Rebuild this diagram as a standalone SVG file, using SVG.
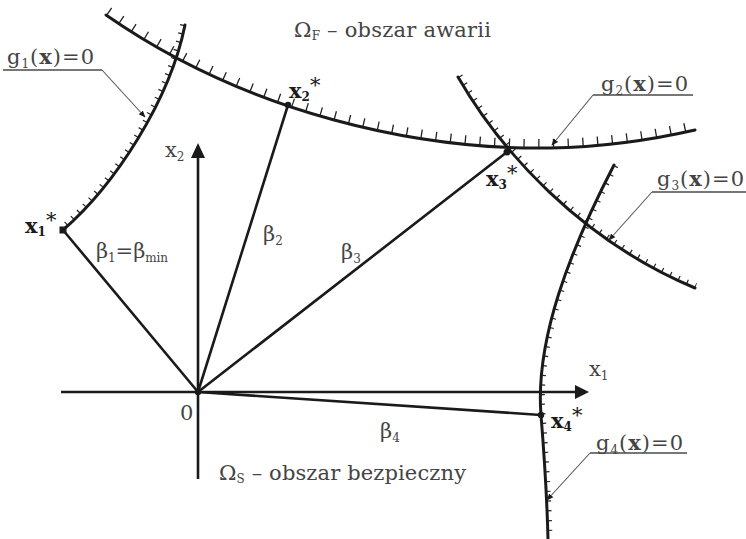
<svg xmlns="http://www.w3.org/2000/svg" width="746" height="539" viewBox="0 0 746 539">
<style>
.curve{fill:none;stroke:#1a1a1a;stroke-width:3;stroke-linecap:round}
.tick{fill:none;stroke:#222;stroke-width:10;stroke-dasharray:1.2 7.5}
.ray{fill:none;stroke:#1a1a1a;stroke-width:2.6;stroke-linecap:round}
.axis{fill:none;stroke:#1a1a1a;stroke-width:2.6}
.lead{fill:none;stroke:#555;stroke-width:1.1}
.ul{fill:none;stroke:#777;stroke-width:1.8}
.lbl{font-family:"DejaVu Serif","Liberation Serif",serif;font-size:21px;fill:#444}
.pt{font-family:"DejaVu Serif","Liberation Serif",serif;font-size:21px;fill:#1a1a1a}
.sub{font-size:12px}
.b{font-weight:bold}
</style>
<defs>
<marker id="la" viewBox="0 0 10 10" refX="9" refY="5" markerWidth="7" markerHeight="7" markerUnits="userSpaceOnUse" orient="auto">
<path d="M0,1 L10,5 L0,9 Z" fill="#1a1a1a"/>
</marker>
<clipPath id="c2"><path d="M34,-35 L106,15 C250,115 420,150 550,148 C610,147 660,138 695,130 L760,115 L760,-40 Z"/></clipPath>
<clipPath id="c1"><path d="M191,-5 L185,25 C170,100 115,185 63,230 L20,268 L-20,268 L-20,-5 Z"/></clipPath>
<clipPath id="c3"><path d="M440,46 L458,77 C500,150 580,240 695,288 L760,315 L760,46 Z"/></clipPath>
<clipPath id="c4"><path d="M630,134 L614,165 C570,250 535,340 541,415 C544,452 547,500 548,539 L549,560 L760,560 L760,134 Z"/></clipPath>
</defs>

<g id="axes">
<line class="axis" x1="61" y1="392" x2="576" y2="392"/>
<polygon points="575,385 589,392 575,399" fill="#1a1a1a"/>
<line class="axis" x1="198" y1="479" x2="198" y2="157"/>
<polygon points="191,158 198,143 205,158" fill="#1a1a1a"/>
<text class="lbl" x="589" y="376">x<tspan class="sub" dy="4">1</tspan></text>
<text class="lbl" x="165" y="157">x<tspan class="sub" dy="4">2</tspan></text>
<text class="lbl" x="180" y="420">0</text>
</g>

<g id="g1">
<path class="tick" clip-path="url(#c1)" d="M185,25 C170,100 115,185 63,230"/>
<path class="curve" d="M185,25 C170,100 115,185 63,230"/>
</g>
<g id="g2">
<path class="tick" clip-path="url(#c2)" style="stroke-width:18;stroke-dasharray:1.3 13.5" d="M106,15 C250,115 420,150 550,148 C610,147 660,138 695,130"/>
<path class="curve" d="M106,15 C250,115 420,150 550,148 C610,147 660,138 695,130"/>
</g>
<g id="g3">
<path class="tick" clip-path="url(#c3)" style="stroke-dasharray:1.2 8" d="M458,77 C500,150 580,240 695,288"/>
<path class="curve" d="M458,77 C500,150 580,240 695,288"/>
</g>
<g id="g4">
<path class="tick" clip-path="url(#c4)" style="stroke-width:9;stroke-dasharray:1.2 8.5" d="M614,165 C570,250 535,340 541,415 C544,452 547,500 548,539"/>
<path class="curve" d="M614,165 C570,250 535,340 541,415 C544,452 547,500 548,539"/>
</g>

<g id="connectors">
<line class="ray" x1="198" y1="392" x2="63" y2="230"/>
<line class="ray" x1="198" y1="392" x2="288" y2="105"/>
<line class="ray" x1="198" y1="392" x2="507" y2="152"/>
<line class="ray" x1="198" y1="392" x2="541" y2="415"/>
<polyline class="lead" points="102,70 145,117" marker-end="url(#la)"/>
<polyline class="lead" points="593,95 552,145" marker-end="url(#la)"/>
<polyline class="lead" points="652,192 609,240" marker-end="url(#la)"/>
<polyline class="lead" points="590,453 547,500" marker-end="url(#la)"/>
<line class="ul" x1="3" y1="70" x2="102" y2="70"/>
<line class="ul" x1="593" y1="95" x2="693" y2="95"/>
<line class="ul" x1="652" y1="192" x2="746" y2="192"/>
<line class="ul" x1="590" y1="453" x2="687" y2="453"/>
</g>

<g id="points">
<rect x="59.5" y="226.5" width="7" height="7" fill="#1a1a1a"/>
<circle cx="288" cy="105" r="3.2" fill="#1a1a1a"/>
<circle cx="507" cy="152" r="3.5" fill="#1a1a1a"/>
<circle cx="541" cy="415" r="3.2" fill="#1a1a1a"/>
<circle cx="198" cy="392" r="3.2" fill="#1a1a1a"/>
</g>

<g id="labels">
<text class="lbl" x="7" y="64" textLength="87">g<tspan class="sub" dy="4">1</tspan><tspan dy="-4">(</tspan><tspan class="b">x</tspan>)=0</text>
<text class="lbl" x="601" y="91" textLength="87">g<tspan class="sub" dy="4">2</tspan><tspan dy="-4">(</tspan><tspan class="b">x</tspan>)=0</text>
<text class="lbl" x="657" y="186" textLength="87">g<tspan class="sub" dy="4">3</tspan><tspan dy="-4">(</tspan><tspan class="b">x</tspan>)=0</text>
<text class="lbl" x="596" y="450" textLength="87">g<tspan class="sub" dy="4">4</tspan><tspan dy="-4">(</tspan><tspan class="b">x</tspan>)=0</text>
<text class="lbl" x="294" y="37" textLength="197">Ω<tspan class="sub" dy="3">F</tspan><tspan dy="-3"> – obszar awarii</tspan></text>
<text class="lbl" x="219" y="480" textLength="247">Ω<tspan class="sub" dy="3">S</tspan><tspan dy="-3"> – obszar bezpieczny</tspan></text>
<text class="lbl" x="96" y="258" textLength="72">β<tspan class="sub" dy="4">1</tspan><tspan dy="-4">=β</tspan><tspan class="sub" dy="4">min</tspan></text>
<text class="lbl" x="263" y="241">β<tspan class="sub" dy="4">2</tspan></text>
<text class="lbl" x="341" y="259">β<tspan class="sub" dy="4">3</tspan></text>
<text class="lbl" x="380" y="438">β<tspan class="sub" dy="4">4</tspan></text>
<text class="pt" x="25" y="233"><tspan class="b">x</tspan><tspan class="sub b" dy="3">1</tspan><tspan dy="-9">*</tspan></text>
<text class="pt" x="289" y="98"><tspan class="b">x</tspan><tspan class="sub b" dy="3">2</tspan><tspan dy="-9">*</tspan></text>
<text class="pt" x="486" y="186"><tspan class="b">x</tspan><tspan class="sub b" dy="3">3</tspan><tspan dy="-9">*</tspan></text>
<text class="pt" x="551" y="428"><tspan class="b">x</tspan><tspan class="sub b" dy="3">4</tspan><tspan dy="-9">*</tspan></text>
</g>
</svg>
